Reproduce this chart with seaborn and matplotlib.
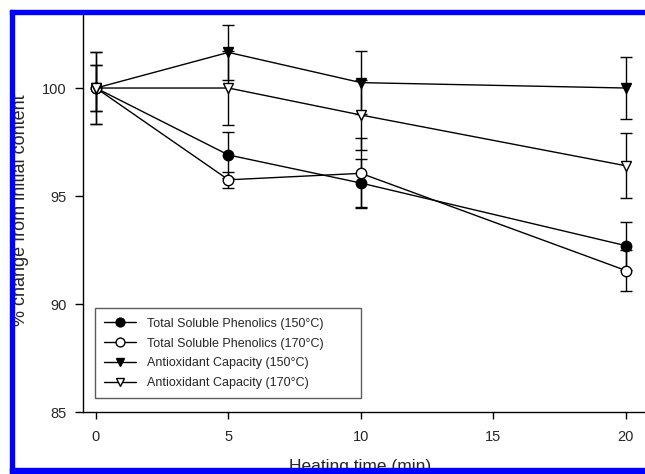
import matplotlib
matplotlib.use("Agg")
import matplotlib.pyplot as plt
import seaborn as sns

# Heating time (min)
time = [0, 5, 10, 20]

# % change from initial content
tsp_150 = [100.0, 96.9, 95.6, 92.7]
tsp_170 = [100.0, 95.75, 96.05, 91.55]
ac_150 = [100.0, 101.65, 100.25, 100.0]
ac_170 = [100.0, 100.0, 98.75, 96.4]

# error bars (+/-)
tsp_150_err = [1.07, 1.05, 1.13, 1.11]
tsp_170_err = [1.07, 0.36, 1.62, 0.95]
ac_150_err = [1.66, 1.27, 1.45, 1.43]
ac_170_err = [1.66, 1.71, 1.62, 1.5]

labels = ["Total Soluble Phenolics (150°C)", "Total Soluble Phenolics (170°C)",
          "Antioxidant Capacity (150°C)", "Antioxidant Capacity (170°C)"]

sns.set_style("ticks")
plt.rcParams["font.family"] = ["Liberation Sans", "DejaVu Sans"]

fig = plt.figure(figsize=(6.45, 4.74), dpi=100)
ax = fig.add_axes([83 / 645, 62 / 474, (645 - 83) / 645, 400 / 474])

series = [
    (tsp_150, tsp_150_err, "o", "black"),
    (tsp_170, tsp_170_err, "o", "white"),
    (ac_150, ac_150_err, "v", "black"),
    (ac_170, ac_170_err, "v", "white"),
]

for (vals, errs, mk, face), lab in zip(series, labels):
    ax.errorbar(time, vals, yerr=errs, fmt="none", ecolor="black",
                elinewidth=1, capsize=4, capthick=1, zorder=2)
    sns.lineplot(x=time, y=vals, ax=ax, color="black", linewidth=1,
                 marker=mk, markersize=7.5, markerfacecolor=face,
                 markeredgecolor="black", markeredgewidth=1,
                 label=lab, zorder=3)

ax.set_xlim(-0.49, 20.72)
ax.set_ylim(85, 103.52)
ax.set_xticks([0, 5, 10, 15, 20])
ax.set_yticks([85, 90, 95, 100])
ax.set_xlabel("")
ax.set_ylabel("")
ax.tick_params(axis="x", direction="out", length=5, width=1, pad=8, labelsize=10.5, color="black")
ax.tick_params(axis="y", direction="out", length=6, width=1, pad=6, labelsize=10.5, color="black")
for side in ["top", "right"]:
    ax.spines[side].set_visible(False)
for side in ["left", "bottom"]:
    ax.spines[side].set_color("black")
    ax.spines[side].set_linewidth(1)

leg = ax.legend(loc="lower left", bbox_to_anchor=(0.0214, 0.034, (361 - 95) / 562, 0.2),
                mode="expand", borderaxespad=0, fontsize=9, frameon=True,
                fancybox=False, labelspacing=0.62, handlelength=2.5,
                handletextpad=0.9, borderpad=0.75, markerscale=0.85)
leg.get_frame().set_edgecolor("#333333")
leg.get_frame().set_linewidth(1)

# axis titles, partly covered by the blue frame as in the reference
fig.text(21 / 645, 1 - 210 / 474, "% change from initial content", rotation=90,
         ha="center", va="center", fontsize=13, zorder=1)
fig.text(360 / 645, 1 - 459 / 474, "Heating time (min)", ha="center", va="top",
         fontsize=12.5, zorder=1)

# blue frame lines
blue = "#0000ff"
fig.add_artist(plt.Rectangle((10 / 645, 1 - 14 / 474), 1, 4 / 474,
                             transform=fig.transFigure, color=blue, zorder=20))
fig.add_artist(plt.Rectangle((10 / 645, 0), 4 / 645, 1 - 10 / 474,
                             transform=fig.transFigure, color=blue, zorder=20))
fig.add_artist(plt.Rectangle((10 / 645, 1 - 473 / 474), 1, 5 / 474,
                             transform=fig.transFigure, color=blue, zorder=20))

fig.savefig("out.png", dpi=100)
